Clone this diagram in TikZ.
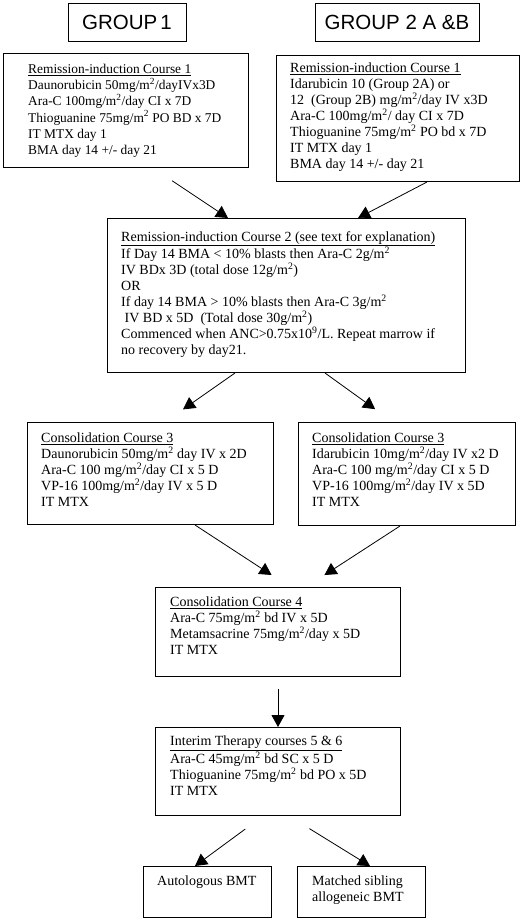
\documentclass[tikz,border=0pt]{standalone}
\usepackage{fontspec}
\setmainfont{Liberation Serif}
\setsansfont{Liberation Sans}
\usetikzlibrary{arrows.meta}

\newcommand{\sq}{\textsuperscript{2}}

\begin{document}
\begin{tikzpicture}[x=1pt, y=-1pt, >={Triangle[length=12pt,width=13pt]}]
    % Styles
    \tikzstyle{group} = [rectangle, draw, line width=1pt, minimum height=38pt, font=\sffamily\fontsize{20.5}{24}\selectfont]
    \tikzstyle{block} = [rectangle, draw, line width=1pt, inner sep=0pt, anchor=north west]
    \tikzstyle{txt} = [anchor=north west, align=left, inner sep=0pt, font=\fontsize{14}{16}\selectfont]
    \tikzstyle{line} = [draw, line width=0.8pt, ->]

    \useasboundingbox (0,0) rectangle (520,919);

    % Nodes
    \node [group, minimum width=118pt] (group1) at (127,22) {GROUP\kern3pt 1};
    \node [group, minimum width=164pt] (group2) at (397,22) {GROUP 2 A \&B};

    \node [block, minimum width=245pt, minimum height=114pt] (induct1) at (3,53) {};
    \node [txt, font=\fontsize{13.4}{16.2}\selectfont] (induct1text) at ([shift={(25pt,-11pt)}]induct1.north west) {\underline{Remission-induction Course 1}\\
        Daunorubicin 50mg/m\sq/dayIVx3D\\
        Ara-C 100mg/m\sq/day CI x 7D\\
        Thioguanine 75mg/m\sq{} PO BD x 7D\\
        IT MTX day 1\\
        BMA day 14 +/- day 21};

    \node [block, minimum width=243pt, minimum height=126pt] (induct2) at (276,55) {};
    \node [txt] (induct2text) at ([shift={(14pt,-8pt)}]induct2.north west) {\underline{Remission-induction Course 1}\\
        Idarubicin 10 (Group 2A) or\\
        12 \ (Group 2B) mg/m\sq/day IV x3D\\
        Ara-C 100mg/m\sq/ day CI x 7D\\
        Thioguanine 75mg/m\sq{} PO bd x 7D\\
        IT MTX day 1\\
        BMA day 14 +/- day 21};

    \node [block, minimum width=358pt, minimum height=154pt] (induct3) at (107,218) {};
    \node [txt] (induct3text) at ([shift={(14pt,-13pt)}]induct3.north west) {\underline{Remission-induction Course 2 (see text for explanation)}\\
        If Day 14 BMA < 10\% blasts then Ara-C 2g/m\sq\\
        IV BDx 3D (total dose 12g/m\sq)\\
        OR\\
        If day 14 BMA > 10\% blasts then Ara-C 3g/m\sq\\
        \ IV BD x 5D \ (Total dose 30g/m\sq)\\
        Commenced when ANC>0.75x10\textsuperscript{9}/L. Repeat marrow if\\
        no recovery by day21.};

    \node [block, minimum width=246pt, minimum height=102pt] (consol1) at (27,422) {};
    \node [txt] (consol1text) at ([shift={(14pt,-11pt)}]consol1.north west) {\underline{Consolidation Course 3}\\
        Daunorubicin 50mg/m\sq{} day IV x 2D\\
        Ara-C 100 mg/m\sq/day CI x 5 D\\
        VP-16 100mg/m\sq/day IV x 5 D\\
        IT MTX};

    \node [block, minimum width=217pt, minimum height=103pt] (consol2) at (298,422) {};
    \node [txt] (consol2text) at ([shift={(14pt,-11pt)}]consol2.north west) {\underline{Consolidation Course 3}\\
        Idarubicin 10mg/m\sq/day IV x2 D\\
        Ara-C 100 mg/m\sq/day CI x 5 D\\
        VP-16 100mg/m\sq/day IV x 5D\\
        IT MTX};

    \node [block, minimum width=245pt, minimum height=89pt] (consol4) at (155,587) {};
    \node [txt] (consol4text) at ([shift={(15pt,-10pt)}]consol4.north west) {\underline{Consolidation Course 4}\\
        Ara-C 75mg/m\sq{} bd IV x 5D\\
        Metamsacrine 75mg/m\sq/day x 5D\\
        IT MTX};

    \node [block, minimum width=245pt, minimum height=88pt] (interim) at (155,727) {};
    \node [txt] (interimtext) at ([shift={(15pt,-9pt)}]interim.north west) {\underline{Interim Therapy courses 5 \& 6}\\
        Ara-C 45mg/m\sq{} bd SC x 5 D\\
        Thioguanine 75mg/m\sq{} bd PO x 5D\\
        IT MTX};

    \node [block, minimum width=128pt, minimum height=51pt] (auto) at (143,866) {};
    \node [txt] (autotext) at ([shift={(14pt,-10pt)}]auto.north west) {Autologous BMT};

    \node [block, minimum width=128pt, minimum height=51pt] (allo) at (297,866) {};
    \node [txt] (allotext) at ([shift={(15pt,-10pt)}]allo.north west) {Matched sibling\\allogeneic BMT};

    % Arrows
    \draw [line, shorten <=23pt] ([xshift=150pt]induct1.south west) -- ([xshift=121pt]induct3.north west);
    \draw [line] ([xshift=151pt]induct2.south west) -- ([xshift=251pt]induct3.north west);
    \draw [line, shorten >=22pt] ([xshift=128pt]induct3.south west) -- ([xshift=138pt]consol1.north west);
    \draw [line, shorten >=22pt] ([xshift=218pt]induct3.south west) -- ([xshift=95pt]consol2.north west);
    \draw [line, shorten >=22pt] ([xshift=168pt]consol1.south west) -- ([xshift=135pt]consol4.north west);
    \draw [line, shorten >=22pt] ([xshift=102pt]consol2.south west) -- ([xshift=151pt]consol4.north west);
    \draw [line, shorten <=12pt] (consol4.south) -- (interim.north);
    \draw [line, shorten <=22pt] ([xshift=108pt]interim.south west) -- ([xshift=52pt]auto.north west);
    \draw [line, shorten <=24pt] ([xshift=134pt]interim.south west) -- ([xshift=73pt]allo.north west);
\end{tikzpicture}
\end{document}
